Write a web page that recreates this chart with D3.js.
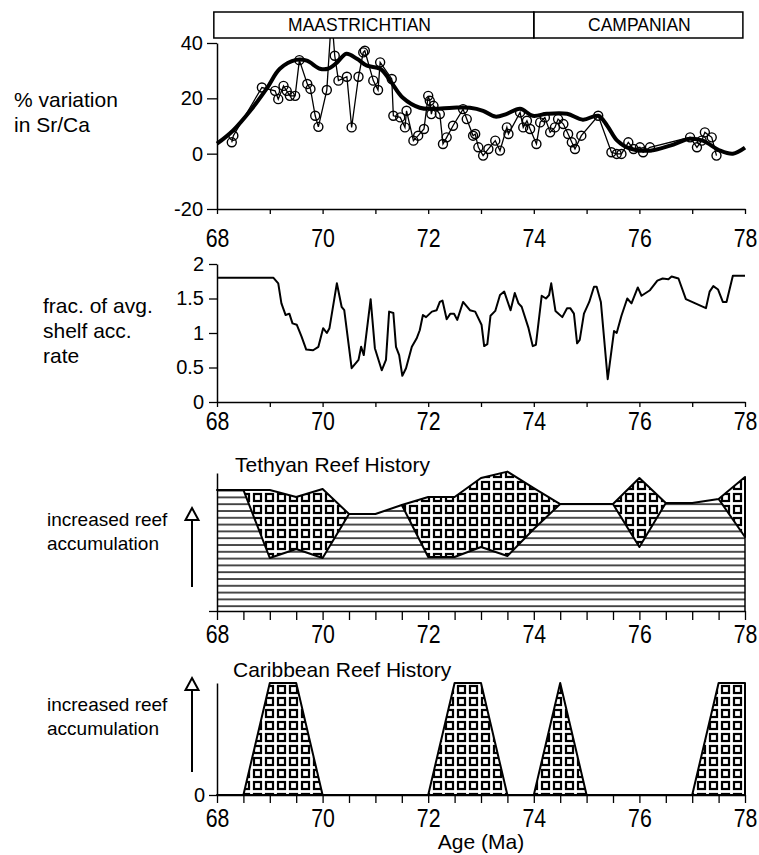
<!DOCTYPE html>
<html>
<head>
<meta charset="utf-8">
<script src="https://cdn.jsdelivr.net/npm/d3@7"></script>
<style>
  body { margin: 0; background: #fff; }
  svg { display: block; font-family: "Liberation Sans", Arial, sans-serif; }
</style>
</head>
<body>
<div id="chart"></div>
<script>
// geologic stages shown in the header box
var stageNames = ["MAASTRICHTIAN", "CAMPANIAN"];
var stageStart = [67.94, 74];
var stageEnd = [74, 77.96];
var stageLabelAt = [70.7, 76.0];

// Sr/Ca samples (thin line with circles)
var srAge = [68.28, 68.31, 68.85, 69.10, 69.16, 69.26, 69.32, 69.38, 69.48, 69.56,
             69.71, 69.77, 69.86, 69.92, 70.08, 70.17, 70.23, 70.30, 70.46, 70.55,
             70.68, 70.77, 70.80, 70.96, 71.05, 71.09, 71.31, 71.34, 71.47, 71.56,
             71.59, 71.72, 71.81, 71.92, 72.00, 72.03, 72.06, 72.10, 72.22, 72.28,
             72.35, 72.47, 72.66, 72.73, 72.85, 72.89, 72.95, 73.04, 73.14, 73.27,
             73.36, 73.49, 73.52, 73.74, 73.80, 73.87, 73.93, 74.05, 74.12, 74.21,
             74.31, 74.40, 74.46, 74.56, 74.65, 74.72, 74.78, 74.90, 75.22, 75.47,
             75.57, 75.66, 75.79, 75.89, 76.01, 76.07, 76.20, 76.96, 77.09, 77.18,
             77.24, 77.37, 77.46];
var srVal = [4.1, 6.5, 23.9, 22.7, 19.7, 24.5, 22.7, 20.9, 20.9, 33.8,
             25.2, 23.4, 13.7, 9.7, 23.0, 50.0, 35.4, 26.4, 27.8, 9.5,
             27.8, 36.6, 37.2, 26.4, 23.0, 33.0, 27.0, 13.7, 13.1, 9.5,
             15.5, 4.7, 6.5, 8.9, 20.9, 19.1, 14.3, 17.3, 14.3, 3.5,
             5.9, 10.1, 16.1, 12.5, 6.5, 7.1, 2.3, -0.7, 1.7, 4.7,
             1.1, 9.5, 7.1, 14.9, 9.5, 11.9, 8.9, 3.5, 11.3, 13.1,
             7.7, 9.5, 12.5, 10.7, 7.1, 4.1, 1.7, 6.5, 13.7, 0.5,
             -0.1, -0.1, 4.1, 1.7, 2.3, 0.5, 2.3, 5.9, 2.3, 4.7,
             7.7, 5.9, -0.7];

// smoothed Sr/Ca (thick line)
var smoothAge = [68.0, 68.3, 68.63, 68.95, 69.19, 69.5, 69.7, 69.95, 70.1, 70.27,
                 70.45, 70.65, 70.84, 71.09, 71.28, 71.52, 71.84, 72.09, 72.47, 72.79,
                 73.04, 73.27, 73.49, 73.74, 73.98, 74.25, 74.63, 74.93, 75.22, 75.39,
                 75.58, 75.82, 76.2, 76.58, 76.96, 77.2, 77.53, 77.77, 78.0];
var smoothVal = [3.6, 8.3, 15.5, 23.8, 30.7, 33.9, 33.6, 30.7, 30.7, 32.9,
                 36.1, 34.3, 31.8, 30.7, 26.4, 20.2, 16.6, 16.2, 16.6, 16.6,
                 15.5, 13.4, 14.4, 16.2, 13.7, 14.4, 14.4, 12.3, 13.7, 10.1,
                 4.7, 1.8, 1.1, 2.9, 5.4, 4.7, 1.1, 0.0, 2.2];

// fraction of average shelf accumulation rate
var accAge = [68.02, 69.07, 69.16, 69.22, 69.30, 69.37, 69.43, 69.51, 69.60, 69.69,
              69.82, 69.92, 70.01, 70.08, 70.13, 70.27, 70.36, 70.41, 70.55, 70.68,
              70.73, 70.78, 70.91, 70.99, 71.12, 71.20, 71.26, 71.34, 71.39, 71.45,
              71.51, 71.58, 71.69, 71.78, 71.84, 71.90, 71.96, 72.07, 72.16, 72.22,
              72.27, 72.35, 72.42, 72.49, 72.55, 72.66, 72.79, 72.89, 73.01, 73.06,
              73.12, 73.18, 73.27, 73.36, 73.44, 73.56, 73.64, 73.71, 73.77, 73.90,
              73.98, 74.04, 74.15, 74.23, 74.29, 74.33, 74.41, 74.54, 74.63, 74.69,
              74.76, 74.82, 74.87, 74.95, 75.05, 75.14, 75.19, 75.27, 75.40, 75.52,
              75.57, 75.66, 75.77, 75.85, 75.97, 76.04, 76.20, 76.34, 76.44, 76.55,
              76.61, 76.74, 76.88, 77.26, 77.33, 77.40, 77.49, 77.58, 77.65, 77.77,
              78.0];
var accVal = [1.80, 1.80, 1.72, 1.43, 1.26, 1.28, 1.14, 1.12, 0.95, 0.76,
              0.75, 0.80, 1.07, 1.00, 1.07, 1.72, 1.38, 1.33, 0.49, 0.61,
              0.80, 0.68, 1.49, 0.78, 0.46, 0.61, 1.31, 1.29, 0.80, 0.68,
              0.38, 0.49, 0.80, 0.92, 1.04, 1.26, 1.23, 1.31, 1.33, 1.45,
              1.47, 1.20, 1.28, 1.28, 1.19, 1.45, 1.33, 1.31, 1.12, 0.81,
              0.84, 1.25, 1.32, 1.55, 1.60, 1.33, 1.58, 1.43, 1.38, 1.07,
              0.81, 0.83, 1.54, 1.50, 1.55, 1.72, 1.32, 1.23, 1.36, 1.36,
              1.28, 0.85, 0.90, 1.28, 1.45, 1.67, 1.67, 1.45, 0.33, 1.03,
              1.00, 1.25, 1.50, 1.43, 1.66, 1.54, 1.62, 1.76, 1.79, 1.78,
              1.82, 1.79, 1.49, 1.36, 1.60, 1.68, 1.63, 1.45, 1.45, 1.83,
              1.83];

// reef histories, relative units, every 0.5 Ma
var reefAge = [68, 68.5, 69, 69.5, 70, 70.5, 71, 71.5, 72, 72.5, 73,
               73.5, 74, 74.5, 75, 75.5, 76, 76.5, 77, 77.5, 78];
var tethTop = [8.77, 8.77, 8.77, 8.26, 8.84, 7.03, 7.03, 7.68, 8.26, 8.26, 9.64,
               10.1, 8.9, 7.75, 7.75, 7.75, 9.64, 7.83, 7.83, 8.12, 9.71];
var tethBase = [8.77, 8.77, 3.84, 4.49, 3.84, 7.03, 7.03, 7.68, 3.91, 3.91, 4.64,
                3.99, 5.94, 7.75, 7.75, 7.75, 4.64, 7.83, 7.83, 8.12, 5.36];
var caribLevel = [0, 0, 1, 1, 0, 0, 0, 0, 0, 1, 1,
                  0, 0, 1, 0, 0, 0, 0, 0, 1, 1];

var xTicksMajor = [68, 69, 70, 71, 72, 73, 74, 75, 76, 77, 78];
var xTicksHalf = reefAge;
var srTicks = [-20, 0, 20, 40];
var accTicks = [0, 0.5, 1, 1.5, 2];

function draw_chart() {
  var width = 759, height = 855;

  var svg = d3.select("#chart")
              .append("svg")
              .attr("width", width)
              .attr("height", height);

  var defs = svg.append("defs");

  var checks = defs.append("pattern")
                   .attr("id", "checks")
                   .attr("patternUnits", "userSpaceOnUse")
                   .attr("width", 12).attr("height", 12);
  checks.append("rect").attr("width", 12).attr("height", 12).attr("fill", "#fff");
  checks.append("rect")
        .attr("x", 2).attr("y", 2).attr("width", 7).attr("height", 7)
        .attr("fill", "none").attr("stroke", "#000").attr("stroke-width", 2.2);

  var hlines = defs.append("pattern")
                   .attr("id", "hlines")
                   .attr("patternUnits", "userSpaceOnUse")
                   .attr("width", 10).attr("height", 6.8);
  hlines.append("rect").attr("width", 10).attr("height", 6.8).attr("fill", "#fff");
  hlines.append("line")
        .attr("x1", 0).attr("x2", 10).attr("y1", 1).attr("y2", 1)
        .attr("stroke", "#000").attr("stroke-width", 1.4);

  defs.append("clipPath").attr("id", "clipTop")
      .append("rect").attr("x", 200).attr("y", 38).attr("width", 560).attr("height", 200);

  var x = d3.scaleLinear().domain([68, 78]).range([217, 745]);
  var y1 = d3.scaleLinear().domain([-20, 40]).range([209, 43]);
  var y2 = d3.scaleLinear().domain([0, 2]).range([402, 264]);
  var y3 = d3.scaleLinear().domain([0, 10]).range([611, 473]);
  var y4 = d3.scaleLinear().domain([0, 1]).range([795, 683]);

  // ---- stage header
  for (var i = 0; i < stageNames.length; i++) {
    svg.append("rect")
       .attr("x", x(stageStart[i])).attr("y", 12)
       .attr("width", x(stageEnd[i]) - x(stageStart[i])).attr("height", 26)
       .attr("fill", "none").attr("stroke", "#000").attr("stroke-width", 1.5);
    svg.append("text")
       .attr("x", x(stageLabelAt[i])).attr("y", 31)
       .attr("text-anchor", "middle")
       .attr("font-size", 17.5)
       .text(stageNames[i]);
  }

  // ---- panel 1: Sr/Ca
  xAxis(svg, x, 209, xTicksMajor, 5, 38);
  yAxis(svg, y1, srTicks, 10, 4, function(d) { return d; });

  var p1 = svg.append("g").attr("clip-path", "url(#clipTop)");
  var srData = srAge.map(function(a, i) { return [a, srVal[i]]; });
  var smoothData = smoothAge.map(function(a, i) { return [a, smoothVal[i]]; });

  p1.append("path")
    .attr("d", d3.line().x(function(d) { return x(d[0]); })
                        .y(function(d) { return y1(d[1]); })(srData))
    .attr("fill", "none").attr("stroke", "#000").attr("stroke-width", 1.3);
  p1.selectAll("circle.sr")
    .data(srData)
    .enter().append("circle")
    .attr("class", "sr")
    .attr("cx", function(d) { return x(d[0]); })
    .attr("cy", function(d) { return y1(d[1]); })
    .attr("r", 4.5)
    .attr("fill", "none").attr("stroke", "#000").attr("stroke-width", 1.4);
  p1.append("path")
    .attr("d", d3.line().curve(d3.curveCatmullRom)
                        .x(function(d) { return x(d[0]); })
                        .y(function(d) { return y1(d[1]); })(smoothData))
    .attr("fill", "none").attr("stroke", "#000").attr("stroke-width", 4)
    .attr("stroke-linejoin", "round");

  svg.append("text").attr("x", 14).attr("y", 107).attr("font-size", 21).text("% variation");
  svg.append("text").attr("x", 14).attr("y", 132).attr("font-size", 21).text("in Sr/Ca");

  // ---- panel 2: accumulation rate
  xAxis(svg, x, 402, xTicksMajor, 5, 28);
  yAxis(svg, y2, accTicks, 8, 5, function(d) { return String(d); });

  var accData = accAge.map(function(a, i) { return [a, accVal[i]]; });
  svg.append("path")
     .attr("d", d3.line().x(function(d) { return x(d[0]); })
                         .y(function(d) { return y2(d[1]); })(accData))
     .attr("fill", "none").attr("stroke", "#000").attr("stroke-width", 2)
     .attr("stroke-linejoin", "round");

  svg.append("text").attr("x", 43).attr("y", 313).attr("font-size", 21).text("frac. of avg.");
  svg.append("text").attr("x", 43).attr("y", 338).attr("font-size", 21).text("shelf acc.");
  svg.append("text").attr("x", 43).attr("y", 363).attr("font-size", 21).text("rate");

  // ---- panel 3: Tethyan reefs
  var reefData = reefAge.map(function(a, i) {
    return {age: a, top: tethTop[i], base: tethBase[i], carib: caribLevel[i]};
  });

  svg.append("path")
     .attr("d", d3.area().x(function(d) { return x(d.age); })
                         .y0(y3(0.2))
                         .y1(function(d) { return y3(d.base); })(reefData))
     .attr("fill", "url(#hlines)");
  svg.append("path")
     .attr("d", d3.area().x(function(d) { return x(d.age); })
                         .y0(function(d) { return y3(d.base); })
                         .y1(function(d) { return y3(d.top); })(reefData))
     .attr("fill", "url(#checks)")
     .attr("stroke", "#000").attr("stroke-width", 2).attr("stroke-linejoin", "round");
  svg.append("line")
     .attr("x1", x(78)).attr("x2", x(78))
     .attr("y1", y3(tethTop[tethTop.length - 1])).attr("y2", y3(0))
     .attr("stroke", "#000").attr("stroke-width", 1.5);

  xAxis(svg, x, 611, xTicksHalf, 9, 32);
  yAxis(svg, y3, [0], 8, 4, function() { return ""; });

  svg.append("text").attr("x", 235).attr("y", 472).attr("font-size", 21).text("Tethyan Reef History");
  reefArrow(svg, 526, 508, 587);

  // ---- panel 4: Caribbean reefs
  svg.append("path")
     .attr("d", d3.area().x(function(d) { return x(d.age); })
                         .y0(y4(0))
                         .y1(function(d) { return y4(d.carib); })(reefData))
     .attr("fill", "url(#checks)")
     .attr("stroke", "#000").attr("stroke-width", 2).attr("stroke-linejoin", "round");

  xAxis(svg, x, 795, xTicksHalf, 8, 32);
  yAxis(svg, y4, [0], 8, 4, function(d) { return d; });

  svg.append("text").attr("x", 233).attr("y", 677).attr("font-size", 21).text("Caribbean Reef History");
  reefArrow(svg, 711, 678, 772);

  svg.append("text").attr("x", x(73)).attr("y", 849)
     .attr("text-anchor", "middle").attr("font-size", 21).text("Age (Ma)");
}

function xAxis(svg, x, yPos, ticks, size, labelY) {
  var g = svg.append("g")
             .attr("transform", "translate(0," + yPos + ")")
             .call(d3.axisBottom(x).tickValues(ticks).tickSize(size).tickSizeOuter(0)
                     .tickFormat(function(d) { return d % 2 == 0 ? d : ""; }));
  g.select(".domain").attr("stroke-width", 1.5);
  g.selectAll(".tick line").attr("stroke-width", 1.3);
  g.selectAll(".tick text")
   .attr("dy", null).attr("y", labelY)
   .attr("font-family", "'Liberation Sans', Arial, sans-serif")
   .attr("font-size", 26)
   .attr("fill", "#000")
   .attr("transform", "scale(0.82,1)");
  return g;
}

function yAxis(svg, y, ticks, size, pad, fmt) {
  var g = svg.append("g")
             .attr("transform", "translate(217,0)")
             .call(d3.axisLeft(y).tickValues(ticks).tickSize(size).tickPadding(pad)
                     .tickSizeOuter(0).tickFormat(fmt));
  g.select(".domain").attr("stroke-width", 1.5);
  g.selectAll(".tick line").attr("stroke-width", 1.3);
  g.selectAll(".tick text")
   .attr("font-family", "'Liberation Sans', Arial, sans-serif")
   .attr("font-size", 20)
   .attr("fill", "#000");
  return g;
}

function reefArrow(svg, textY, headY, tailY) {
  svg.append("text").attr("x", 47).attr("y", textY).attr("font-size", 19).text("increased reef");
  svg.append("text").attr("x", 47).attr("y", textY + 24).attr("font-size", 19).text("accumulation");
  svg.append("line")
     .attr("x1", 192).attr("x2", 192).attr("y1", headY + 12).attr("y2", tailY)
     .attr("stroke", "#000").attr("stroke-width", 2);
  svg.append("path")
     .attr("d", "M192," + headY + "L198.5," + (headY + 12) + "L185.5," + (headY + 12) + "Z")
     .attr("fill", "#fff").attr("stroke", "#000").attr("stroke-width", 2);
}

draw_chart();
</script>
</body>
</html>
